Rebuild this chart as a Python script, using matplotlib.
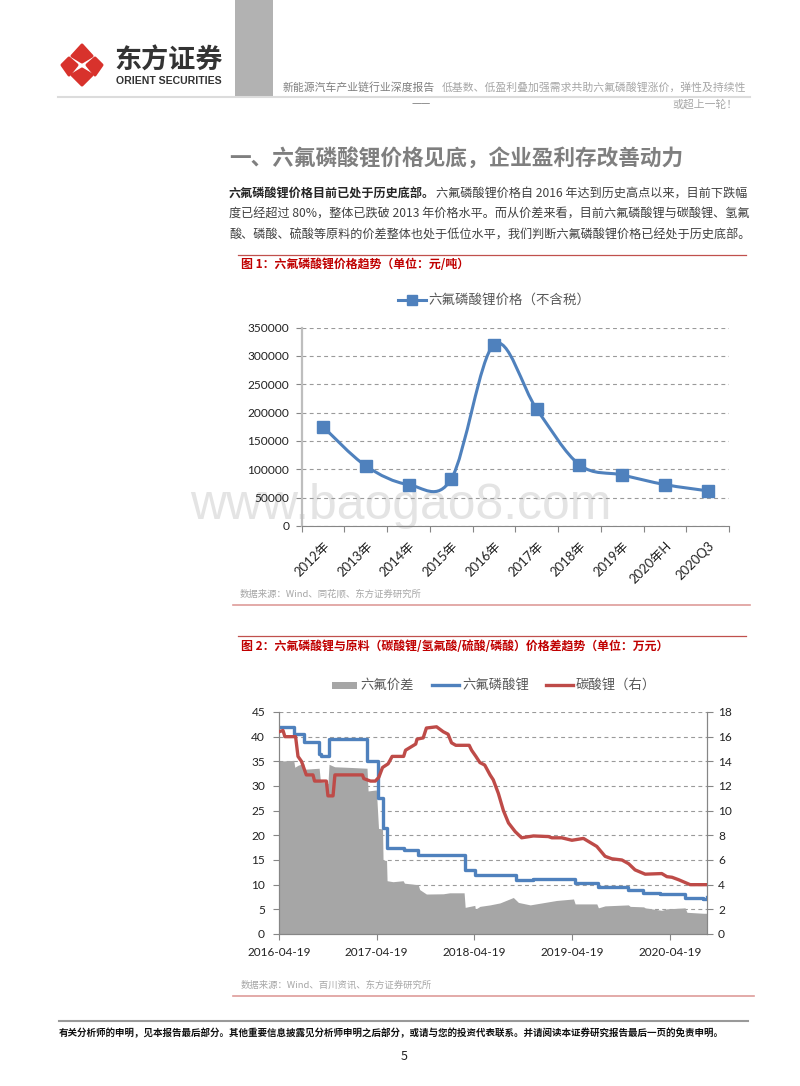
import numpy as np
import matplotlib
matplotlib.use('Agg')
import matplotlib.pyplot as plt
from matplotlib.path import Path
from matplotlib.patches import PathPatch, Polygon, Rectangle

plt.rcParams['font.family'] = ['Noto Sans CJK SC', 'DejaVu Sans']
TICKFONT = ['Lato', 'Noto Sans CJK SC']

W, H = 800, 1086

# chart 1 values
years = ['2012年', '2013年', '2014年', '2015年', '2016年', '2017年', '2018年', '2019年', '2020年H', '2020Q3']
price = [175000, 106000, 73000, 83000, 320000, 206000, 108000, 90000, 73000, 62000]

# chart 2 values, x is days after 2016-04-19
start = np.datetime64('2016-04-19')
year_ticks = ['2016-04-19', '2017-04-19', '2018-04-19', '2019-04-19', '2020-04-19']

spread_days = [0, 21, 55, 59, 71, 92, 96, 150, 155, 183, 187, 208, 252, 329, 333, 364, 372, 387, 389, 402, 404,
               426, 464, 469, 520, 526, 551, 614, 638, 692, 696, 732, 734, 751, 789, 826, 876, 895, 939, 1038,
               1101, 1107, 1188, 1194, 1219, 1306, 1313, 1363, 1369, 1431, 1450, 1518, 1525, 1587, 1600]
spread = [35, 35.1, 35.2, 33.8, 34.2, 34.6, 33.4, 33.6, 30.9, 30.5, 34.4, 33.9, 33.8, 33.6, 29, 29.2, 21.4, 21.3,
          15, 14.9, 10.8, 10.6, 10.8, 10.3, 10, 9, 8.1, 8.15, 8.35, 8.35, 5.4, 5.8, 5, 5.6, 5.9, 6.3, 7.4, 6.4,
          5.9, 6.8, 7.1, 6.1, 6.1, 5.3, 5.7, 5.9, 5.6, 5.5, 5.3, 4.8, 5.1, 5.3, 4.4, 4.2, 4.2]

lipf6_days = [0, 55, 92, 150, 158, 187, 330, 370, 389, 404, 466, 521, 695, 733, 886, 950, 1107, 1193, 1305, 1361,
              1425, 1518, 1586, 1600]
lipf6 = [42, 40.5, 39, 36.5, 36, 39.5, 35, 27.5, 21.5, 17.5, 17, 16, 13, 12, 11, 11.2, 10.4, 9.5, 9, 8.4,
         8.2, 7.2, 7, 7.5]

li2co3_days = [0, 15, 22, 62, 71, 84, 102, 127, 133, 177, 183, 202, 209, 312, 317, 342, 360, 373, 387, 408, 423,
               466, 473, 511, 516, 539, 551, 589, 614, 632, 645, 661, 711, 720, 736, 751, 769, 789, 801, 820, 839,
               858, 883, 907, 951, 1007, 1020, 1057, 1095, 1138, 1188, 1219, 1244, 1282, 1307, 1331, 1369, 1431,
               1450, 1469, 1494, 1537, 1600]
li2co3 = [16.4, 16.5, 16, 16, 14.4, 14, 12.9, 12.9, 12.4, 12.4, 11.2, 11.2, 12.9, 12.9, 12.6, 12.4, 12.4, 12.7,
          13.5, 13.8, 14.4, 14.4, 14.9, 15.4, 15.8, 15.9, 16.7, 16.8, 16.4, 16.2, 15.5, 15.3, 15.3, 14.9, 14.4,
          13.9, 13.7, 12.9, 12.5, 11.4, 10, 9, 8.3, 7.8, 7.95, 7.9, 7.8, 7.8, 7.6, 7.75, 7.1, 6.3, 6.1, 6, 5.7,
          5.2, 4.85, 4.9, 4.65, 4.6, 4.4, 4, 4]

BLUE = '#4F81BD'
RED = '#BE4B48'
GRAY = '#A6A6A6'
AXIS = '#868686'
GRID = '#9A9A9A'
DARKRED = '#C0504D'
LEGEND_TXT = '#595959'
LOGO = '#D8322C'


def px_axes(left, top, right, bottom):
    return fig.add_axes([left / W, 1 - bottom / H, (right - left) / W, (bottom - top) / H], facecolor='none')


def smooth_path(x, y):
    # same kind of smoothed line as the spreadsheet chart
    verts = [(x[0], y[0])]
    codes = [Path.MOVETO]
    n = len(x)
    for i in range(n - 1):
        p0 = (x[max(i - 1, 0)], y[max(i - 1, 0)])
        p1 = (x[i], y[i])
        p2 = (x[i + 1], y[i + 1])
        p3 = (x[min(i + 2, n - 1)], y[min(i + 2, n - 1)])
        verts.append((p1[0] + (p2[0] - p0[0]) / 6, p1[1] + (p2[1] - p0[1]) / 6))
        verts.append((p2[0] - (p3[0] - p1[0]) / 6, p2[1] - (p3[1] - p1[1]) / 6))
        verts.append(p2)
        codes += [Path.CURVE4] * 3
    return Path(verts, codes)


fig = plt.figure(figsize=(W / 100, H / 100), dpi=100)

#---- page furniture, in pixels
bg = fig.add_axes([0, 0, 1, 1], zorder=0)
bg.set_xlim(0, W)
bg.set_ylim(H, 0)
bg.axis('off')

bg.add_patch(Rectangle((235, 0), 38, 96, color='#B2B2B2', lw=0))
bg.plot([58, 750], [96.5, 96.5], color='#DCDCDC', lw=1.5)

# logo, four rounded diamonds around a white cross
for shape in ([(82, 45), (92, 56), (82, 62), (72, 56)],
              [(82, 85), (92, 75), (82, 69), (72, 75)],
              [(62, 65), (69, 58), (77, 65), (69, 75)],
              [(102, 65), (95, 58), (87, 65), (95, 75)]):
    bg.add_patch(Polygon(shape, fc=LOGO, ec=LOGO, lw=2.2, joinstyle='round'))
bg.text(169, 61, '东方证券', fontsize=19.5, fontweight='bold', color='#333333', ha='center', va='center')
bg.text(169, 81, 'ORIENT SECURITIES', fontsize=7.6, fontweight='bold', color='#333333', ha='center', va='center',
        family=['Liberation Sans'])

# header
bg.text(283, 87, '新能源汽车产业链行业深度报告', fontsize=7.8, color='#7F7F7F', fontweight='medium', va='center')
bg.text(442, 87, '低基数、低盈利叠加强需求共助六氟磷酸锂涨价，弹性及持续性', fontsize=7.8, color='#A6A6A6', va='center')
bg.text(411, 104, '——', fontsize=7.8, color='#7F7F7F', va='center')
bg.text(738, 104, '或超上一轮！', fontsize=7.8, color='#A6A6A6', va='center', ha='right')

# section title and paragraph
bg.text(229, 159, '一、六氟磷酸锂价格见底，企业盈利存改善动力', fontsize=15.6, fontweight='bold', color='#7F7F7F', va='center')
bg.text(229, 193, '六氟磷酸锂价格目前已处于历史底部。', fontsize=8.72, fontweight='bold', color='#262626', va='center')
bg.text(747, 193, '六氟磷酸锂价格自 2016 年达到历史高点以来，目前下跌幅', fontsize=8.72, color='#404040', va='center', ha='right')
bg.text(229, 214, '度已经超过 80%，整体已跌破 2013 年价格水平。而从价差来看，目前六氟磷酸锂与碳酸锂、氢氟', fontsize=8.72,
        color='#404040', va='center')
bg.text(229, 235, '酸、磷酸、硫酸等原料的价差整体也处于低位水平，我们判断六氟磷酸锂价格已经处于历史底部。', fontsize=8.72,
        color='#404040', va='center')

# figure captions and rules
bg.plot([238, 746], [254.5, 254.5], color=DARKRED, lw=0.9)
bg.text(241, 265, '图 1：六氟磷酸锂价格趋势（单位：元/吨）', fontsize=8.6, fontweight='bold', color='#C00000', va='center')
bg.text(240, 594, '数据来源：Wind、同花顺、东方证券研究所', fontsize=6.75, color='#A6A6A6', va='center')
bg.plot([233, 750], [605, 605], color='#DE9C9A', lw=1.2)

bg.plot([238, 746], [635.5, 635.5], color=DARKRED, lw=0.9)
bg.text(241, 647, '图 2：六氟磷酸锂与原料（碳酸锂/氢氟酸/硫酸/磷酸）价格差趋势（单位：万元）', fontsize=8.6, fontweight='bold',
        color='#C00000', va='center')
bg.text(241, 985, '数据来源：Wind、百川资讯、东方证券研究所', fontsize=6.75, color='#A6A6A6', va='center')
bg.plot([233, 754], [995.5, 995.5], color='#DE9C9A', lw=1.2)

# footer
bg.plot([59, 748], [1021, 1021], color='#999999', lw=1.5)
bg.text(59, 1033, '有关分析师的申明，见本报告最后部分。其他重要信息披露见分析师申明之后部分，或请与您的投资代表联系。并请阅读本证券研究报告最后一页的免责申明。',
        fontsize=6.85, fontweight='bold', color='#111111', va='center')
bg.text(404, 1056, '5', fontsize=9, color='#222222', ha='center', va='center')

# watermark
bg.text(190, 506, 'www.baogao8.com', fontsize=35.9, color='#E4E4E4', va='center', family=['Liberation Sans'])

##=================== chart 1 =======================
ax1 = px_axes(301.7, 327.5, 729, 526)
ax1.set_zorder(1)
xs = np.arange(len(years))
ax1.set_xlim(-0.5, len(years) - 0.5)
ax1.set_ylim(0, 350000)
ax1.set_yticks(np.arange(0, 350001, 50000))
ax1.set_xticks(np.arange(-0.5, len(years)))
ax1.set_xticklabels([])
ax1.set_xticks(xs, minor=True)
ax1.set_xticklabels(years, minor=True, rotation=45, ha='right', va='top', rotation_mode='anchor',
                    family=TICKFONT, fontsize=9.4, color='#222222')
ax1.tick_params(axis='x', which='minor', length=0, pad=10)
ax1.tick_params(axis='x', which='major', length=4, color=AXIS, width=0.8)
ax1.tick_params(axis='y', length=4, color=AXIS, width=0.8, pad=5, labelcolor='#222222', labelsize=8.6)
for t in ax1.get_yticklabels():
    t.set_family(TICKFONT)
ax1.grid(axis='y', color=GRID, ls=(0, (3.5, 3)), lw=0.8)
ax1.set_axisbelow(True)
for s in ['top', 'right']:
    ax1.spines[s].set_visible(False)
ax1.spines['left'].set_color('#BEBEBE')
ax1.spines['left'].set_linewidth(1.6)
ax1.spines['bottom'].set_color(AXIS)
ax1.add_patch(PathPatch(smooth_path(xs, price), fc='none', ec=BLUE, lw=2.2, zorder=3))
ax1.plot(xs, price, ls='none', marker='s', ms=8.4, color=BLUE, zorder=4)

# legend is placed by hand to sit like the source
bg.plot([398, 426], [300, 300], color=BLUE, lw=2.2)
bg.plot([412], [300], marker='s', ms=7.5, color=BLUE)
bg.text(428, 300, '六氟磷酸锂价格（不含税）', fontsize=9.7, color=LEGEND_TXT, va='center')

##=================== chart 2 =======================
ax2 = px_axes(279, 712, 707, 934)
ax2.set_zorder(1)
x_limit = start + np.timedelta64(max(spread_days), 'D')
ax2.set_xlim(start, x_limit)
ax2.set_ylim(0, 45)
ax2.set_yticks(np.arange(0, 46, 5))
tick_dates = np.array(year_ticks, dtype='datetime64[D]')
ax2.set_xticks(tick_dates)
ax2.set_xticklabels(year_ticks, family=TICKFONT, fontsize=8.5, color='#222222')
ax2.tick_params(axis='x', length=4, color=AXIS, width=0.8, pad=5)
ax2.tick_params(axis='y', length=4, color=AXIS, width=0.8, pad=6, labelcolor='#222222', labelsize=8.6)
for t in ax2.get_yticklabels():
    t.set_family(TICKFONT)
ax2.grid(axis='y', color=GRID, ls=(0, (3.5, 3)), lw=0.8)
ax2.set_axisbelow(True)
ax2.spines['top'].set_visible(False)
for s in ['left', 'bottom', 'right']:
    ax2.spines[s].set_color(AXIS)
ax2.fill_between(start + np.array(spread_days, dtype='timedelta64[D]'), spread, color=GRAY, lw=0, zorder=2)
ax2.plot(start + np.array(lipf6_days, dtype='timedelta64[D]'), lipf6, color=BLUE, lw=2.4, drawstyle='steps-post',
         zorder=3)

ax3 = ax2.twinx()
ax3.set_zorder(2)
ax3.patch.set_visible(False)
ax3.set_ylim(0, 18)
ax3.set_yticks(np.arange(0, 19, 2))
ax3.tick_params(axis='y', length=4, color=AXIS, width=0.8, pad=4, labelcolor='#222222', labelsize=8.6)
for t in ax3.get_yticklabels():
    t.set_family(TICKFONT)
ax3.spines['top'].set_visible(False)
for s in ['left', 'bottom', 'right']:
    ax3.spines[s].set_color(AXIS)
ax3.plot(start + np.array(li2co3_days, dtype='timedelta64[D]'), li2co3, color=RED, lw=2.4, zorder=3)

bg.add_patch(Rectangle((332, 682), 25, 7, color=GRAY, lw=0))
bg.text(360, 685, '六氟价差', fontsize=9.6, color=LEGEND_TXT, va='center')
bg.plot([432, 459], [685, 685], color=BLUE, lw=2.4)
bg.text(462, 685, '六氟磷酸锂', fontsize=9.6, color=LEGEND_TXT, va='center')
bg.plot([546, 573], [685, 685], color=RED, lw=2.4)
bg.text(576, 685, '碳酸锂（右）', fontsize=9.6, color=LEGEND_TXT, va='center')

fig.savefig('out.png', dpi=100)
